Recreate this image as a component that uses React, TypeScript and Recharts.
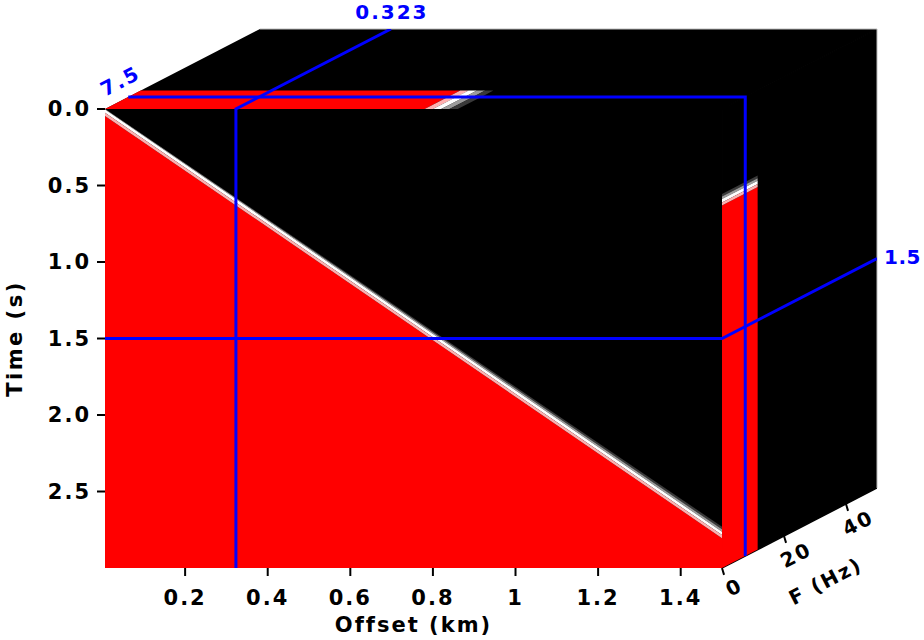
import React from 'react';
import {
  ComposedChart,
  Area,
  Line,
  XAxis,
  YAxis,
  ReferenceLine,
  ReferenceDot,
} from 'recharts';

// cube extents: offset (km), time (s), frequency (Hz)
const cubeOffsets = [0.006, 1.5];
const cubeTimes = [0, 3];
const cubeFreqs = [0, 50];

// slice positions drawn on the faces
const sliceOffset = 0.323;
const sliceTime = 1.5;
const sliceFreq = 7.5;

const offsetTicks = [0.2, 0.4, 0.6, 0.8, 1, 1.2, 1.4];
const timeTicks = [0, 0.5, 1, 1.5, 2, 2.5];
const freqTicks = [0, 20, 40];

// linear event picked at both ends of the section
const eventOffsets = [0.006, 1.5];
const eventTimes = [0.02, 2.78];

// frequency band that carries the energy
const energyFreqs = [0, 11.5];

// colour ramp across the event (time shift from the event, s)
const rampShifts = [-0.05, -0.033, -0.017, 0.005, 0.025];
const rampColors = ['#3a3a3a', '#9c9c9c', '#ffffff', '#ffb0b0'];
// same ramp on the time slice, offsets (km), red side first
const sliceRampOffsets = [0.78, 0.8, 0.82, 0.84, 0.86];

const RED = '#ff0000';
const BLUE = '#0000ff';
const FONT = "'DejaVu Sans', sans-serif";

// oblique depth of the frequency axis, in offset / time units
const depthKm = 0.3753;
const depthSec = 0.523;

const [oMin, oMax] = cubeOffsets;
const [tMin, tMax] = cubeTimes;
const [fMin, fMax] = cubeFreqs;
const kx = depthKm / fMax;
const ky = depthSec / fMax;
const xDomain = [oMin, oMax + depthKm];
const yDomain = [tMin - depthSec, tMax];

const onTop = (o: number, f: number) => ({ x: o + f * kx, y: tMin - f * ky });
const onSide = (f: number, t: number) => ({ x: oMax + f * kx, y: t - f * ky });
const clampT = (t: number) => Math.min(tMax, Math.max(tMin, t));
const eventAt = (o: number) =>
  eventTimes[0] +
  ((o - eventOffsets[0]) * (eventTimes[1] - eventTimes[0])) / (eventOffsets[1] - eventOffsets[0]);

// range-area rows for a patch on the top face (offset x frequency at t=0)
function topPatch(o1: number, o2: number, f1: number, f2: number) {
  const xs = [o1 + f1 * kx, o1 + f2 * kx, o2 + f1 * kx, o2 + f2 * kx].sort((a, b) => a - b);
  return xs.map((x) => {
    const lo = Math.max(f1, (x - o2) / kx);
    const hi = Math.min(f2, (x - o1) / kx);
    return { x, r: [tMin - hi * ky, tMin - Math.min(lo, hi) * ky] };
  });
}

// patch on the side face (frequency x time at the last offset)
function sidePatch(f1: number, f2: number, t1: number, t2: number) {
  return [f1, f2].map((f) => ({ x: oMax + f * kx, r: [t1 - f * ky, t2 - f * ky] }));
}

// patch on the front face between two shifts of the event
function frontBand(d1: number, d2: number) {
  return eventOffsets.map((o, i) => ({
    x: o,
    r: [clampT(eventTimes[i] + d1), clampT(eventTimes[i] + d2)],
  }));
}

const eventAtSlice = eventAt(sliceOffset);
const redStart = rampShifts[rampShifts.length - 1];

const patches = [
  { key: 'front', fill: '#000', edge: 'none', data: [{ x: oMin, r: [tMin, tMax] }, { x: oMax, r: [tMin, tMax] }] },
  { key: 'top', fill: '#000', edge: 'none', data: topPatch(oMin, oMax, fMin, fMax) },
  { key: 'side', fill: '#000', edge: '#000', data: sidePatch(fMin, fMax, tMin, tMax) },
  { key: 'frontRed', fill: RED, edge: 'none', data: frontBand(redStart, tMax + 10) },
  ...rampColors.map((c, k) => ({
    key: `frontRamp${k}`,
    fill: c,
    edge: 'none',
    data: frontBand(rampShifts[k], rampShifts[k + 1]),
  })),
  {
    key: 'sideRed',
    fill: RED,
    edge: 'none',
    data: sidePatch(energyFreqs[0], energyFreqs[1], eventAtSlice + redStart, tMax),
  },
  ...rampColors.map((c, k) => ({
    key: `sideRamp${k}`,
    fill: c,
    edge: 'none',
    data: sidePatch(
      energyFreqs[0],
      energyFreqs[1],
      eventAtSlice + rampShifts[k],
      eventAtSlice + rampShifts[k + 1]
    ),
  })),
  {
    key: 'topRed',
    fill: RED,
    edge: 'none',
    data: topPatch(oMin, sliceRampOffsets[0], energyFreqs[0], energyFreqs[1]),
  },
  ...[...rampColors].reverse().map((c, k) => ({
    key: `topRamp${k}`,
    fill: c,
    edge: 'none',
    data: topPatch(sliceRampOffsets[k], sliceRampOffsets[k + 1], energyFreqs[0], energyFreqs[1]),
  })),
];

const offsetSliceLine = [
  { x: sliceOffset, y: tMax },
  { x: sliceOffset, y: tMin },
  onTop(sliceOffset, fMax),
];
const timeSliceLine = [
  { x: oMin, y: sliceTime },
  { x: oMax, y: sliceTime },
  onSide(fMax, sliceTime),
];
const freqSliceLine = [onTop(oMin, sliceFreq), onTop(oMax, sliceFreq), onSide(sliceFreq, tMax)];

function FaceText(props: any) {
  const {
    viewBox,
    txt,
    shiftX = 0,
    shiftY = 0,
    rot = 0,
    anchor = 'middle',
    color = '#000',
    spacing = 2,
  } = props;
  if (!viewBox) return null;
  const x = viewBox.x + shiftX;
  const y = viewBox.y + shiftY;
  return (
    <text
      x={x}
      y={y}
      textAnchor={anchor}
      dominantBaseline="central"
      fill={color}
      fontSize={20}
      fontWeight="bold"
      fontFamily={FONT}
      letterSpacing={spacing}
      transform={rot ? `rotate(${rot} ${x} ${y})` : undefined}
    >
      {txt}
    </text>
  );
}

function OffsetTitle(props: any) {
  const { viewBox } = props;
  if (!viewBox) return null;
  const frac = ((oMin + oMax) / 2 - xDomain[0]) / (xDomain[1] - xDomain[0]);
  const x = viewBox.x + viewBox.width * frac;
  return (
    <text x={x} y={viewBox.y + 57} textAnchor="middle" dominantBaseline="central"
      fontSize={21} fontWeight="bold" fontFamily={FONT} letterSpacing={2} fill="#000">
      Offset (km)
    </text>
  );
}

function TimeTitle(props: any) {
  const { viewBox } = props;
  if (!viewBox) return null;
  const frac = ((tMin + tMax) / 2 - yDomain[0]) / (yDomain[1] - yDomain[0]);
  const x = viewBox.x + 10;
  const y = viewBox.y + viewBox.height * frac;
  return (
    <text x={x} y={y} textAnchor="middle" dominantBaseline="central"
      fontSize={21} fontWeight="bold" fontFamily={FONT} letterSpacing={2.5} fill="#000"
      transform={`rotate(-90 ${x} ${y})`}>
      Time (s)
    </text>
  );
}

const tickStyle = { fontSize: 21, fontWeight: 'bold', fill: '#000', fontFamily: FONT, letterSpacing: 2 };
const faceAngle = -27.3;

export default function App() {
  const fAxisLabelAt = onSide((fMin + fMax) / 2, tMax);
  return (
    <div style={{ position: 'absolute', left: 0, top: 0, width: 924, height: 640, background: '#fff' }}>
      <ComposedChart width={924} height={640} margin={{ top: 29, right: 47, bottom: 0, left: 5 }}>
        <XAxis
          dataKey="x"
          type="number"
          domain={xDomain}
          allowDataOverflow
          ticks={offsetTicks}
          tickFormatter={(v) => String(v)}
          axisLine={false}
          tickLine={{ stroke: '#000', strokeWidth: 2 }}
          tickSize={8}
          tickMargin={14}
          tick={tickStyle}
          height={72}
          label={<OffsetTitle />}
        />
        <YAxis
          type="number"
          domain={yDomain}
          allowDataOverflow
          reversed
          ticks={timeTicks}
          tickFormatter={(v) => v.toFixed(1)}
          axisLine={false}
          tickLine={{ stroke: '#000', strokeWidth: 2 }}
          tickSize={8}
          tickMargin={6}
          tick={tickStyle}
          width={100}
          label={<TimeTitle />}
        />
        {patches.map((p) => (
          <Area
            key={p.key}
            data={p.data}
            dataKey="r"
            type="linear"
            stroke={p.edge}
            strokeWidth={1.5}
            fill={p.fill}
            fillOpacity={1}
            dot={false}
            activeDot={false}
            isAnimationActive={false}
          />
        ))}
        <ReferenceLine
          segment={[onTop(oMin, fMax), onTop(oMax, fMax)]}
          stroke="#bbb"
          strokeWidth={1}
          ifOverflow="visible"
        />
        <ReferenceLine
          segment={[onSide(fMax, tMin), onSide(fMax, tMax)]}
          stroke="#bbb"
          strokeWidth={1}
          ifOverflow="visible"
        />
        {[offsetSliceLine, timeSliceLine, freqSliceLine].map((d, i) => (
          <Line
            key={`slice${i}`}
            data={d}
            dataKey="y"
            type="linear"
            stroke={BLUE}
            strokeWidth={3}
            dot={false}
            activeDot={false}
            isAnimationActive={false}
          />
        ))}
        {freqTicks.map((f) => {
          const p = onSide(f, tMax);
          return (
            <ReferenceLine
              key={`ft${f}`}
              segment={[p, { x: p.x + 0.005, y: p.y + 0.045 }]}
              stroke="#000"
              strokeWidth={2}
              ifOverflow="visible"
            />
          );
        })}
        {freqTicks.map((f) => {
          const p = onSide(f, tMax);
          return (
            <ReferenceDot
              key={`fl${f}`}
              x={p.x}
              y={p.y}
              r={0}
              ifOverflow="visible"
              label={<FaceText txt={String(f)} shiftX={12} shiftY={19} rot={faceAngle} />}
            />
          );
        })}
        <ReferenceDot
          x={fAxisLabelAt.x}
          y={fAxisLabelAt.y}
          r={0}
          ifOverflow="visible"
          label={<FaceText txt="F (Hz)" shiftX={26} shiftY={53} rot={faceAngle} />}
        />
        <ReferenceDot
          x={onTop(sliceOffset, fMax).x}
          y={onTop(sliceOffset, fMax).y}
          r={0}
          ifOverflow="visible"
          label={<FaceText txt={String(sliceOffset)} shiftX={1} shiftY={-17} color={BLUE} />}
        />
        <ReferenceDot
          x={onSide(fMax, sliceTime).x}
          y={onSide(fMax, sliceTime).y}
          r={0}
          ifOverflow="visible"
          label={
            <FaceText txt={String(sliceTime)} shiftX={7} shiftY={-1} anchor="start" color={BLUE} spacing={0.5} />
          }
        />
        <ReferenceDot
          x={onTop(oMin, sliceFreq).x}
          y={onTop(oMin, sliceFreq).y}
          r={0}
          ifOverflow="visible"
          label={<FaceText txt={String(sliceFreq)} shiftX={-8} shiftY={-16} rot={faceAngle} color={BLUE} />}
        />
      </ComposedChart>
    </div>
  );
}
